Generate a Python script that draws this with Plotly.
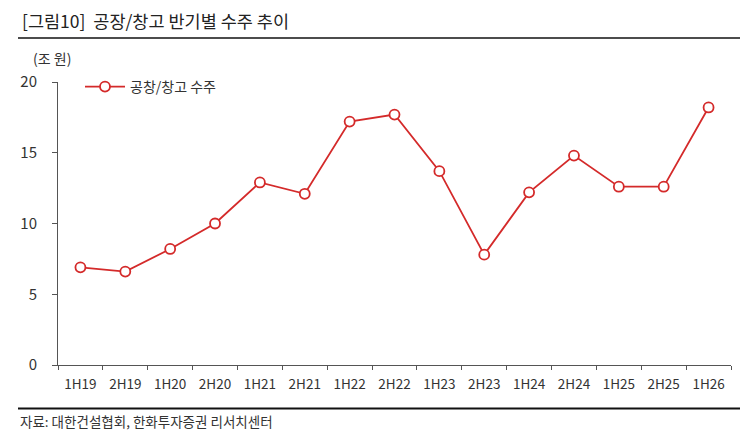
import plotly.graph_objects as go

# ===== 데이터 =====
periods = ["1H19", "2H19", "1H20", "2H20", "1H21", "2H21", "1H22", "2H22",
           "1H23", "2H23", "1H24", "2H24", "1H25", "2H25", "1H26"]
orders = [6.9, 6.6, 8.2, 10.0, 12.9, 12.1, 17.2, 17.7,
          13.7, 7.8, 12.2, 14.8, 12.6, 12.6, 18.2]

title_text = "[그림10]  공장/창고 반기별 수주 추이"
unit_text = "(조 원)"
source_text = "자료: 대한건설협회, 한화투자증권 리서치센터"
series_name = "공창/창고 수주"

RED = "#d42a2a"
FONT = "Noto Sans CJK KR"

# 페이지 기본 여백(8px) 보정
OFF = 8
W, H = 755 - OFF, 448 - OFF
L, R, T, B = 58 - OFF, 24, 82 - OFF, 82.5


def px_x(px):
    # 페이지 좌표(px) -> paper 좌표
    return (px - OFF - L) / (W - L - R)


def px_y(py):
    return (H - B - (py - OFF)) / (H - T - B)


fig = go.Figure()
fig.add_trace(go.Scatter(
    x=periods, y=orders, mode="lines+markers", name=series_name,
    line=dict(color=RED, width=1.8),
    marker=dict(symbol="circle", size=10, color="white",
                line=dict(color=RED, width=1.8)),
))

# 제목 / 단위 / 출처
fig.add_annotation(text=title_text, x=px_x(20), y=px_y(20), xref="paper", yref="paper",
                   xanchor="left", yanchor="middle", showarrow=False,
                   font=dict(family=FONT, size=17.5, color="#222"))
fig.add_annotation(text=unit_text, x=px_x(31), y=px_y(58), xref="paper", yref="paper",
                   xanchor="left", yanchor="middle", showarrow=False,
                   font=dict(family=FONT, size=14, color="#333"))
fig.add_annotation(text=source_text, x=px_x(18), y=px_y(422), xref="paper", yref="paper",
                   xanchor="left", yanchor="middle", showarrow=False,
                   font=dict(family=FONT, size=13.5, color="#333"))

# 위/아래 구분선
fig.add_shape(type="line", xref="paper", yref="paper",
              x0=px_x(18), x1=px_x(740), y0=px_y(38), y1=px_y(38),
              line=dict(color="#111", width=1.5))
fig.add_shape(type="line", xref="paper", yref="paper",
              x0=px_x(18), x1=px_x(740), y0=px_y(409), y1=px_y(409),
              line=dict(color="#111", width=2))

fig.update_layout(
    width=W, height=H,
    margin=dict(l=L, r=R, t=T, b=B),
    paper_bgcolor="white", plot_bgcolor="white",
    font=dict(family=FONT, color="#333"),
    showlegend=True,
    legend=dict(x=px_x(80), y=px_y(71), xanchor="left", yanchor="top",
                itemwidth=40, bgcolor="rgba(0,0,0,0)",
                font=dict(size=14, color="#333")),
)
fig.update_xaxes(
    range=[-0.5, len(periods) - 0.5], showgrid=False, zeroline=False,
    showline=True, linecolor="#555", linewidth=1,
    ticks="outside", ticklen=4, tickcolor="#555", tickson="boundaries",
    tickfont=dict(size=13.5, color="#333"), ticklabelstandoff=7,
)
fig.update_yaxes(
    range=[0, 20], dtick=5, showgrid=False, zeroline=False,
    showline=True, linecolor="#555", linewidth=1,
    ticks="outside", ticklen=5, tickcolor="#555",
    tickfont=dict(size=15, color="#333"), ticklabelstandoff=12,
)

fig.write_html("out.html")
